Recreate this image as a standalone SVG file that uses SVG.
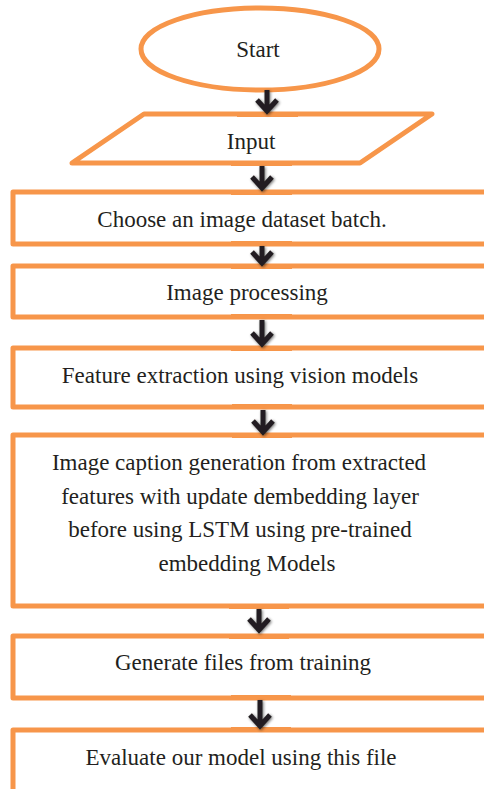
<svg xmlns="http://www.w3.org/2000/svg" width="484" height="789" viewBox="0 0 484 789">
<style>
.shape{fill:#fff;stroke:#F7964A;stroke-width:5;stroke-linejoin:round}
.lbl{font-family:"Liberation Serif","Times New Roman",serif;font-size:23px;fill:#231F20;text-anchor:middle}
.arr{fill:none;stroke:#231F20;stroke-width:5;stroke-linejoin:miter;filter:url(#sh)}
.stub{stroke:#F7964A;stroke-width:5}
</style>
<defs>
<filter id="sh" x="-100%" y="-50%" width="300%" height="200%">
<feGaussianBlur in="SourceAlpha" stdDeviation="1.6" result="b"/>
<feOffset dx="0.5" dy="1" in="b" result="o"/>
<feComponentTransfer in="o" result="s"><feFuncA type="linear" slope="0.55"/></feComponentTransfer>
<feMerge><feMergeNode in="s"/><feMergeNode in="SourceGraphic"/></feMerge>
</filter>
</defs>
<rect width="484" height="789" fill="#fff"/>
<g id="start">
<ellipse class="shape" cx="260" cy="49" rx="119" ry="41" stroke-width="4"/>
<text class="lbl" x="258" y="57">Start</text>
</g>
<g id="input">
<polygon class="shape" points="144,114 432,114 360,163 72,163" stroke-width="4.5"/>
<text class="lbl" x="251" y="149">Input</text>
</g>
<g id="choose">
<rect class="shape" x="13" y="192" width="500" height="52"/>
<text class="lbl" x="242" y="227">Choose an image dataset batch.</text>
</g>
<g id="processing">
<rect class="shape" x="13" y="266" width="500" height="51"/>
<text class="lbl" x="247" y="300">Image processing</text>
</g>
<g id="features">
<rect class="shape" x="13" y="348" width="500" height="59"/>
<text class="lbl" x="240" y="383">Feature extraction using vision models</text>
</g>
<g id="caption">
<rect class="shape" x="13" y="435" width="500" height="171"/>
<text class="lbl" x="239" y="470">Image caption generation from extracted</text>
<text class="lbl" x="240" y="504">features with update dembedding layer</text>
<text class="lbl" x="240" y="537">before using LSTM using pre-trained</text>
<text class="lbl" x="247" y="571">embedding Models</text>
</g>
<g id="generate">
<rect class="shape" x="13" y="636" width="500" height="62"/>
<text class="lbl" x="243" y="670">Generate files from training</text>
</g>
<g id="evaluate">
<rect class="shape" x="13" y="730" width="500" height="80"/>
<text class="lbl" x="241" y="765">Evaluate our model using this file</text>
</g>
<g id="connectors">
<line class="stub" x1="237" y1="114.5" x2="298" y2="114.5"/>
<line class="stub" x1="231" y1="163.5" x2="292" y2="163.5"/>
<line class="stub" x1="231" y1="192.5" x2="292" y2="192.5"/>
<line class="stub" x1="231" y1="243.5" x2="292" y2="243.5"/>
<line class="stub" x1="231" y1="266.5" x2="292" y2="266.5"/>
<line class="stub" x1="231" y1="316.5" x2="292" y2="316.5"/>
<line class="stub" x1="231" y1="348.5" x2="292" y2="348.5"/>
<line class="stub" x1="232" y1="406.5" x2="292" y2="406.5"/>
<line class="stub" x1="232" y1="435.5" x2="292" y2="435.5"/>
<line class="stub" x1="229" y1="606.5" x2="289" y2="606.5"/>
<line class="stub" x1="229" y1="636.5" x2="289" y2="636.5"/>
<line class="stub" x1="231" y1="697.5" x2="291" y2="697.5"/>
<line class="stub" x1="231" y1="729.5" x2="291" y2="729.5"/>
<path class="arr" d="M267,90 V111 M257,100 L267,111 L277,100"/>
<path class="arr" d="M262,166 V188 M252,177 L262,188 L272,177"/>
<path class="arr" d="M262,246 V263 M252,252 L262,263 L272,252"/>
<path class="arr" d="M262,320 V344 M252,333 L262,344 L272,333"/>
<path class="arr" d="M263,410 V432 M253,421 L263,432 L273,421"/>
<path class="arr" d="M259,609 V630 M249,619 L259,630 L269,619"/>
<path class="arr" d="M260,700 V726 M250,715 L260,726 L270,715"/>
</g>
</svg>
